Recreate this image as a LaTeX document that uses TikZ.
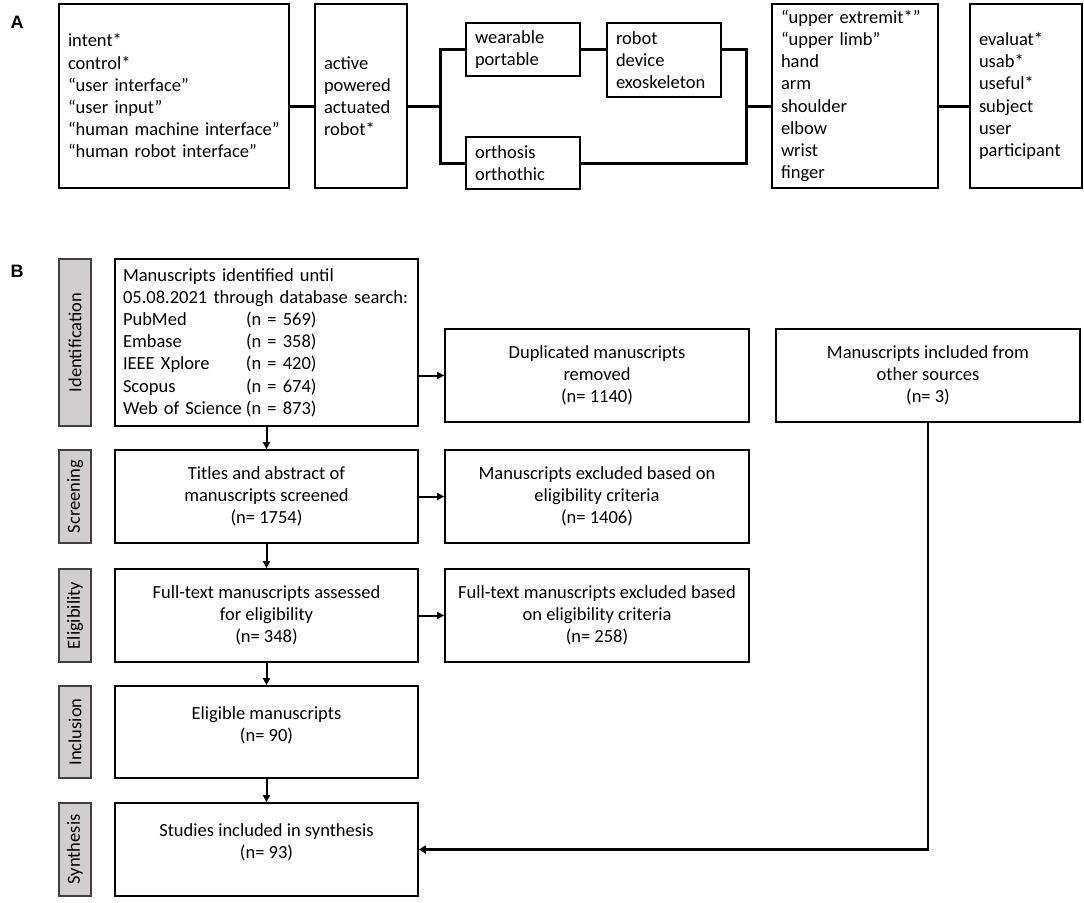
\documentclass[tikz,border=0pt]{standalone}
\usepackage{fontspec}
\setmainfont{Carlito}
\newfontfamily\labfont{Liberation Sans}
\usetikzlibrary{arrows.meta}
\definecolor{sidefill}{RGB}{208,206,206}
\definecolor{sidedraw}{RGB}{64,64,64}
\begin{document}
\begin{tikzpicture}[x=1pt,y=-1pt,
  every node/.style={font=\fontsize{18.5pt}{22.2pt}\selectfont},
  boxA/.style={draw=black, line width=1.8pt, align=left, inner xsep=9pt, inner ysep=0pt},
  boxB/.style={draw=black, line width=1.8pt, align=center, inner sep=0pt, minimum width=303pt, minimum height=93pt},
  sidebox/.style={draw=sidedraw, fill=sidefill, line width=1.8pt, inner sep=0pt, rotate=90, minimum height=32pt},
  connA/.style={line width=3pt},
  arr/.style={line width=2pt, -{Triangle[length=7pt,width=7pt]}},
  longarr/.style={line width=2.5pt, -{Triangle[length=7pt,width=8pt]}},
  panel/.style={font=\labfont\bfseries\fontsize{18pt}{20pt}\selectfont}
]
\useasboundingbox (0,0) rectangle (1084,902);

% ---------- Panel A ----------
\node[panel] (labA) at (17,22) {A};
\node[boxA, text width=212pt, minimum height=184pt] (kw1) at (174,96)
  {intent*\\control*\\“user interface”\\“user input”\\“human machine interface”\\“human robot interface”};
\node[boxA, text width=74pt, minimum height=184pt] (kw2) at (361,96)
  {active\\powered\\actuated\\robot*};
\node[boxA, text width=96pt, minimum height=53pt] (wear) at (523,49.5)
  {wearable\\portable};
\node[boxA, text width=96pt, minimum height=74pt] (rob) at (664,60)
  {robot\\device\\exoskeleton};
\node[boxA, text width=96pt, minimum height=52pt] (orth) at (523,163)
  {orthosis\\orthothic};
\node[boxA, text width=148pt, minimum height=184pt] (limb) at (855,96)
  {“upper extremit*”\\“upper limb”\\hand\\arm\\shoulder\\elbow\\wrist\\finger};
\node[boxA, text width=94pt, minimum height=184pt] (eval) at (1026,96)
  {evaluat*\\usab*\\useful*\\subject\\user\\participant};

\coordinate (jL) at (440,106);
\coordinate (jR) at (746,106);
\draw[connA] (kw1.east |- jL) -- (kw2.west |- jL);
\draw[connA] (kw2.east |- jL) -- (jL);
\draw[connA] (wear.west) -| (jL) |- (orth.west);
\draw[connA] (wear.east) -- (rob.west |- wear.east);
\draw[connA] (rob.east |- wear.east) -| (jR) |- (orth.east);
\draw[connA] (jR) -- (limb.west |- jR);
\draw[connA] (limb.east |- jR) -- (eval.west |- jR);

% ---------- Panel B ----------
\node[panel] (labB) at (17,271) {B};

\node[sidebox, minimum width=167pt] (sIdent) at (75,342.5) {Identification};
\node[sidebox, minimum width=93pt] (sScreen) at (75,496.5) {Screening};
\node[sidebox, minimum width=93pt] (sElig) at (75,615.5) {Eligibility};
\node[sidebox, minimum width=92pt] (sIncl) at (75,732) {Inclusion};
\node[sidebox, minimum width=93pt] (sSynth) at (75,849.5) {Synthesis};

\node[boxA, inner xsep=8pt, text width=287pt, minimum height=167pt] (ident) at (266.5,342.5)
  {Manuscripts identified until\\05.08.2021 through database search:\\
   \makebox[123pt][l]{PubMed}(n = 569)\\
   \makebox[123pt][l]{Embase}(n = 358)\\
   \makebox[123pt][l]{IEEE Xplore}(n = 420)\\
   \makebox[123pt][l]{Scopus}(n = 674)\\
   \makebox[123pt][l]{Web of Science}(n = 873)};
\node[boxB] (screen) at (266.5,496.5) {Titles and abstract of\\manuscripts screened\\(n= 1754)};
\node[boxB] (elig) at (266.5,615.5) {Full-text manuscripts assessed\\for eligibility\\(n= 348)};
\node[boxB, minimum height=92pt,
  label={[yshift=7pt,align=center,name=inclT]center:{Eligible manuscripts\\(n= 90)}}] (incl) at (266.5,732) {};
\node[boxB,
  label={[yshift=7pt,align=center,name=synthT]center:{Studies included in synthesis\\(n= 93)}}] (synth) at (266.5,849.5) {};

\node[boxB, minimum width=304pt] (dup) at (597,375.5) {Duplicated manuscripts\\removed\\(n= 1140)};
\node[boxB, minimum width=304pt] (scex) at (597,496.5) {Manuscripts excluded based on\\eligibility criteria\\(n= 1406)};
\node[boxB, minimum width=304pt] (elex) at (597,615.5) {Full-text manuscripts excluded based\\on eligibility criteria\\(n= 258)};
\node[boxB, minimum width=304pt] (other) at (928,375.5) {Manuscripts included from\\other sources\\(n= 3)};

\draw[arr] (ident.south) -- (screen.north);
\draw[arr] (screen.south) -- (elig.north);
\draw[arr] (elig.south) -- (incl.north);
\draw[arr] (incl.south) -- (synth.north);
\draw[arr] (ident.east |- dup.west) -- (dup.west);
\draw[arr] (screen.east) -- (scex.west);
\draw[arr] (elig.east) -- (elex.west);
\draw[longarr] (other.south) |- (synth.east);
\end{tikzpicture}
\end{document}
